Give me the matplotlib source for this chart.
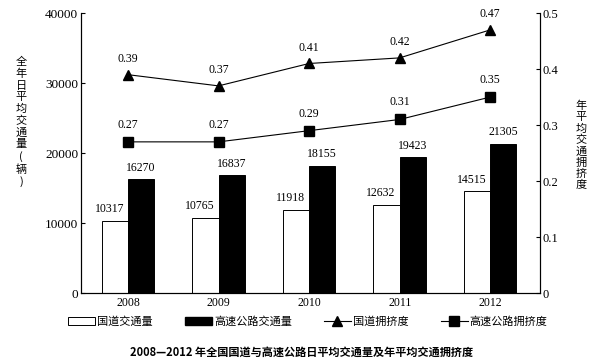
import numpy as np
import matplotlib.pyplot as plt
from matplotlib.patches import Patch
from matplotlib.lines import Line2D

plt.rcParams['font.family'] = ['Liberation Serif', 'Noto Sans CJK SC', 'DejaVu Sans']

years = ['2008', '2009', '2010', '2011', '2012']
guodao_flow = [10317, 10765, 11918, 12632, 14515]
gaosu_flow = [16270, 16837, 18155, 19423, 21305]
guodao_jam = [0.39, 0.37, 0.41, 0.42, 0.47]
gaosu_jam = [0.27, 0.27, 0.29, 0.31, 0.35]

cjk = ['Noto Sans CJK SC', 'DejaVu Sans']

fig = plt.figure(figsize=(6.04, 3.64), dpi=100)
ax = fig.add_axes([0.134, 0.195, 0.76, 0.769])
x = np.arange(len(years))
w = 0.29

ax.bar(x - w / 2, guodao_flow, w, color='white', edgecolor='black', linewidth=0.7)
ax.bar(x + w / 2, gaosu_flow, w, color='black', edgecolor='black', linewidth=0.7)
for i in range(len(years)):
    ax.annotate(str(guodao_flow[i]), (x[i] - w / 2, guodao_flow[i]), xytext=(-4, 4),
                textcoords='offset points', ha='center', va='bottom', fontsize=8.5)
    ax.annotate(str(gaosu_flow[i]), (x[i] + w / 2, gaosu_flow[i]), xytext=(0, 4),
                textcoords='offset points', ha='center', va='bottom', fontsize=8.5)

ax.set_xlim(-0.52, 4.55)
ax.set_ylim(0, 40000)
ax.set_yticks([0, 10000, 20000, 30000, 40000])
ax.set_xticks(x)
ax.set_xticklabels(years)
ax.tick_params(axis='x', length=0, labelsize=8.5, pad=3)
ax.tick_params(axis='y', direction='in', length=3, labelsize=9.5, pad=2)
ax.spines['top'].set_visible(False)
for s in ['left', 'bottom', 'right']:
    ax.spines[s].set_linewidth(0.8)

ax2 = ax.twinx()
ax2.set_ylim(0, 0.5)
ax2.set_yticks([0, 0.1, 0.2, 0.3, 0.4, 0.5])
ax2.set_yticklabels(['0', '0.1', '0.2', '0.3', '0.4', '0.5'])
ax2.tick_params(axis='y', direction='in', length=3, labelsize=9, pad=2)
ax2.spines['top'].set_visible(False)
ax2.spines['right'].set_linewidth(0.8)

ax2.plot(x, guodao_jam, color='black', lw=0.8, marker='^', ms=7)
ax2.plot(x, gaosu_jam, color='black', lw=0.8, marker='s', ms=7)
for i in range(len(years)):
    ax2.annotate('%.2f' % guodao_jam[i], (x[i], guodao_jam[i]), xytext=(0, 7),
                 textcoords='offset points', ha='center', va='bottom', fontsize=8.5)
    ax2.annotate('%.2f' % gaosu_jam[i], (x[i], gaosu_jam[i]), xytext=(0, 8),
                 textcoords='offset points', ha='center', va='bottom', fontsize=8.5)

# vertical stacked axis labels
fig.text(0.035, 0.665, '\n'.join('全年日平均交通量') + '\n(\n辆\n)', ha='center', va='center',
         fontsize=8, family=cjk, linespacing=1.2)
fig.text(0.962, 0.6, '\n'.join('年平均交通拥挤度'), ha='center', va='center',
         fontsize=8, family=cjk, linespacing=1.15)

handles = [Patch(facecolor='white', edgecolor='black', lw=0.7),
           Patch(facecolor='black', edgecolor='black'),
           Line2D([], [], color='black', lw=0.8, marker='^', ms=7),
           Line2D([], [], color='black', lw=0.8, marker='s', ms=7)]
labels = ['国道交通量', '高速公路交通量', '国道拥挤度', '高速公路拥挤度']
leg = fig.legend(handles, labels, loc='center', bbox_to_anchor=(0.51, 0.117), ncol=4,
                 frameon=False, prop={'family': cjk, 'size': 8}, handlelength=2.4,
                 handletextpad=0.2, columnspacing=2.9)

fig.text(0.5, 0.033, '2008—2012 年全国国道与高速公路日平均交通量及年平均交通拥挤度',
         ha='center', va='center', fontsize=8, family=cjk, weight='bold')

fig.savefig('out.png', dpi=100)
